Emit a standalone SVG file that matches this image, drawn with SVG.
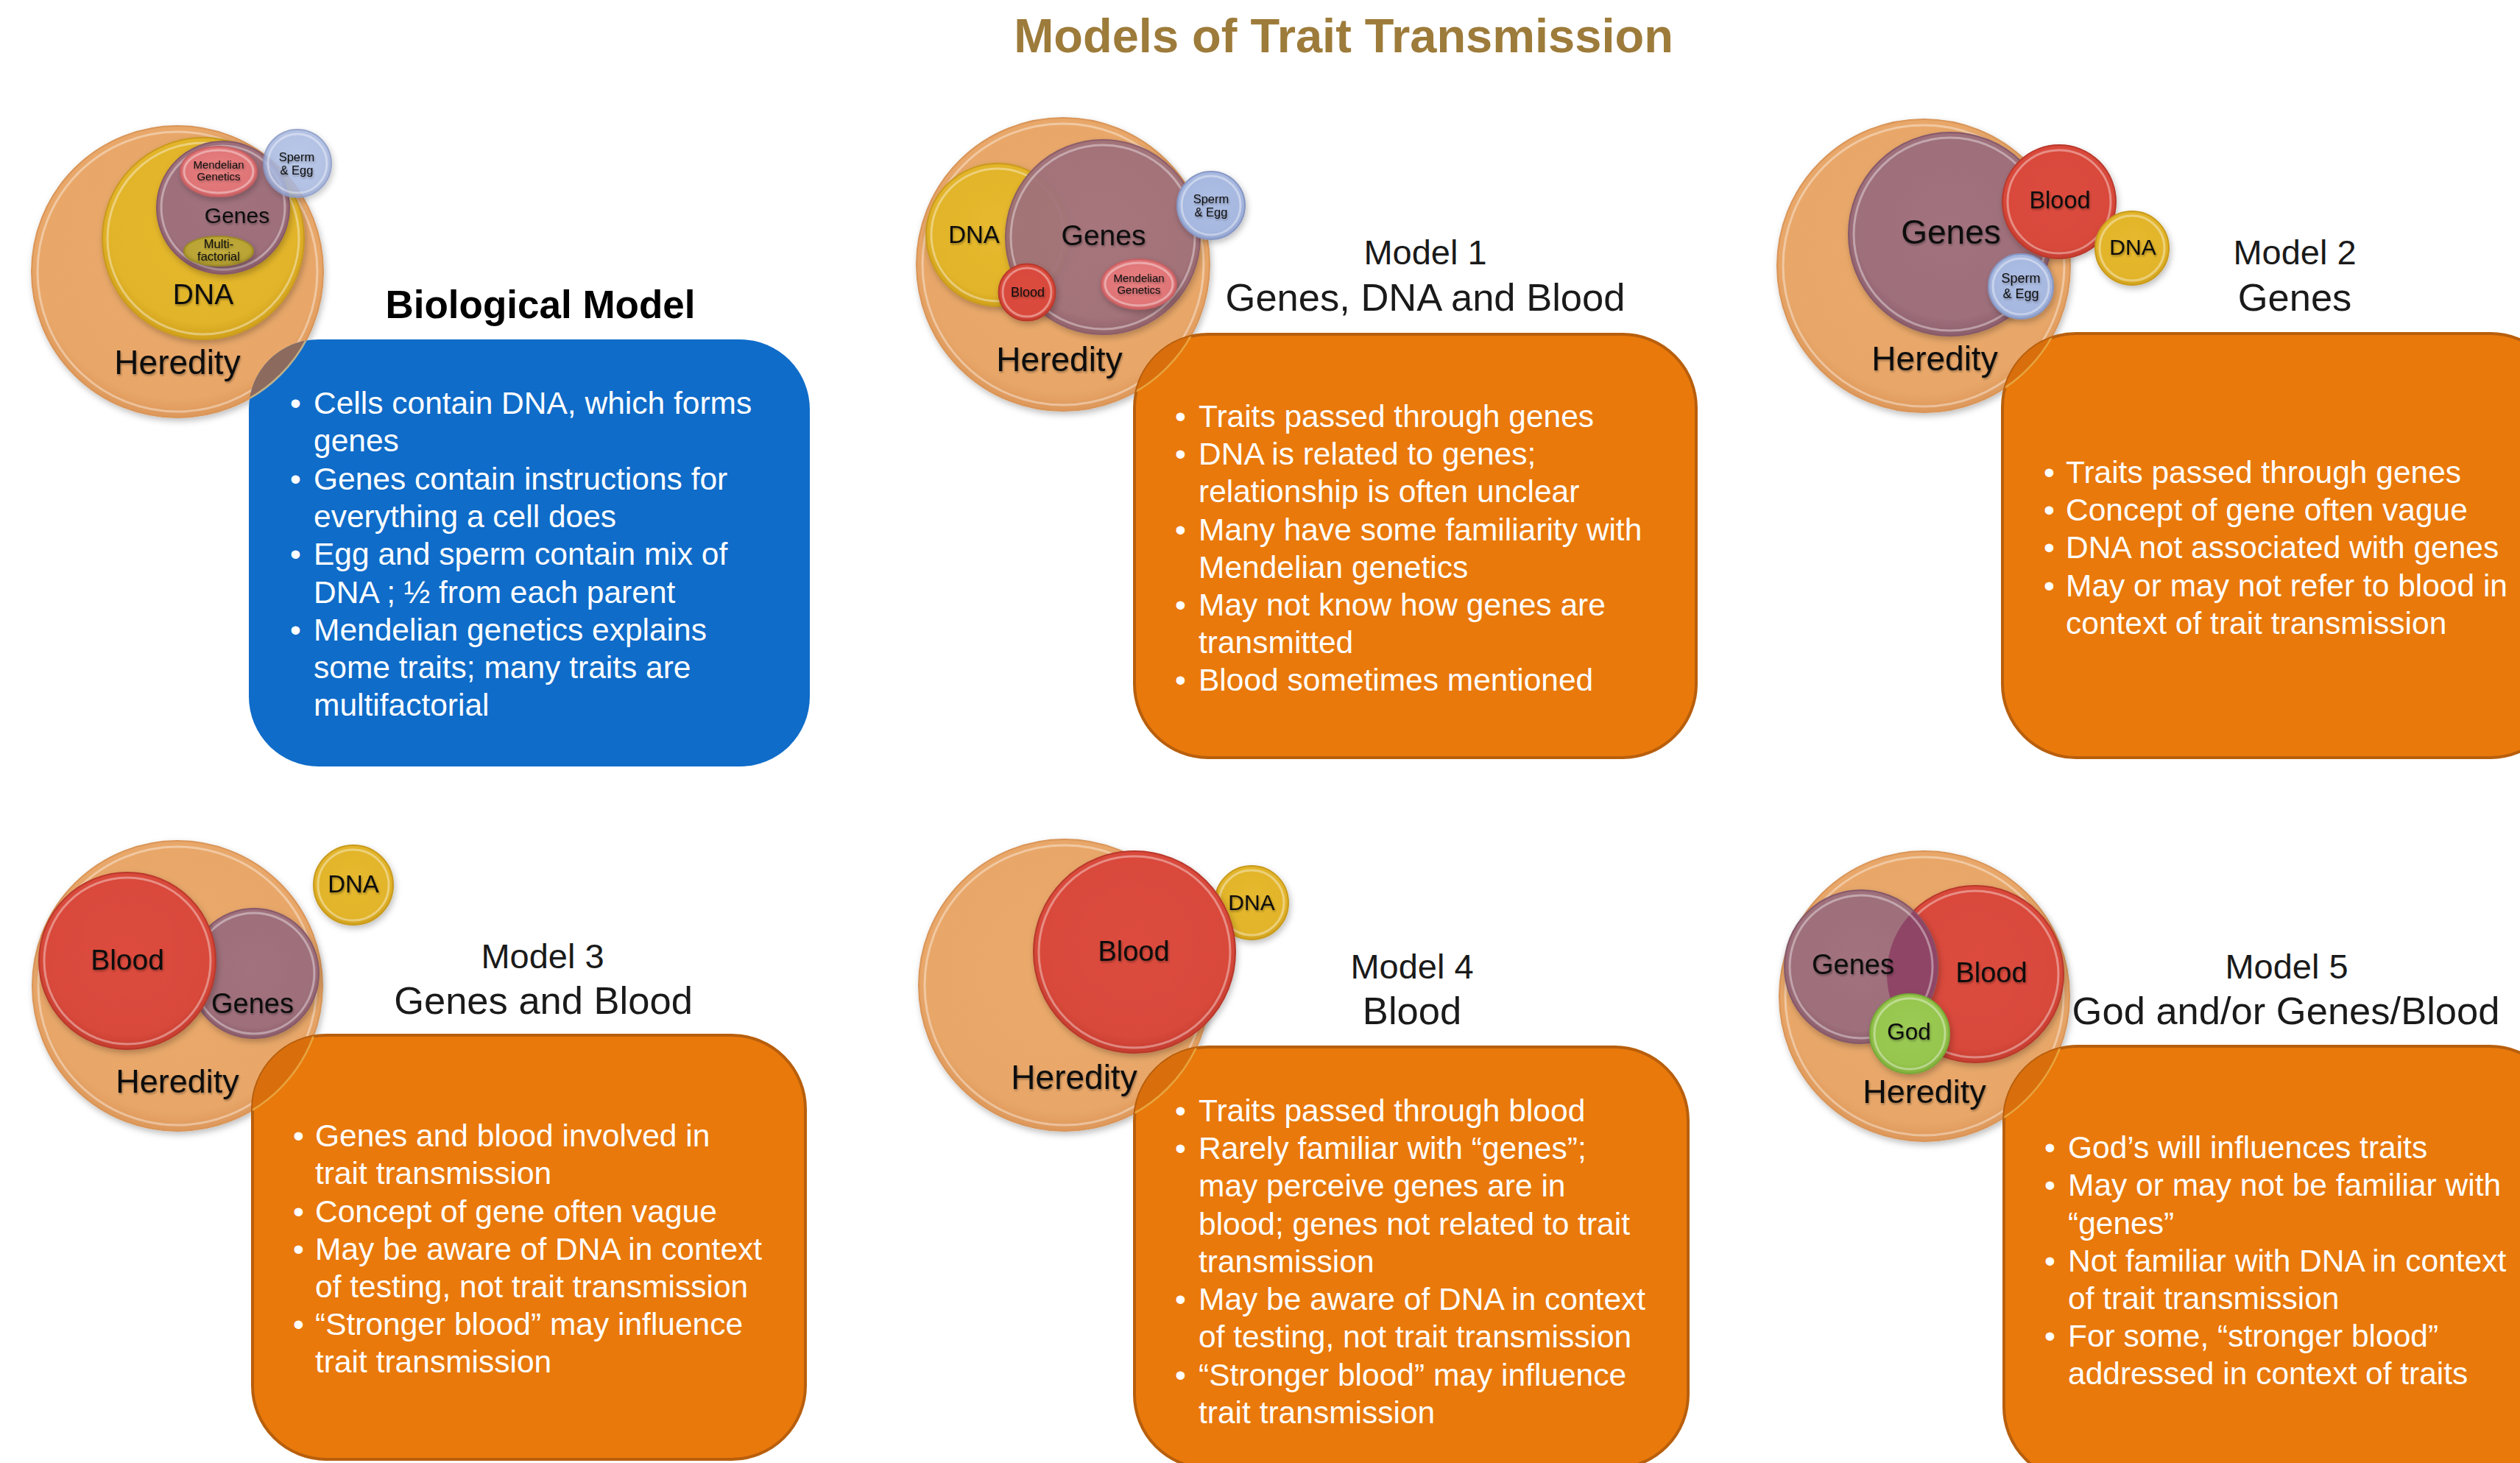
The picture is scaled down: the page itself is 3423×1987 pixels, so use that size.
<svg xmlns="http://www.w3.org/2000/svg" width="3423" height="1987" viewBox="0 0 3423 1987">
<defs>
  <style>
    text { font-family: "Liberation Sans", Arial, sans-serif; }
    .title { font-size: 65px; font-weight: bold; fill: #9D7B3A; text-anchor: middle; }
    .bio { font-size: 53px; font-weight: bold; fill: #000; text-anchor: middle; }
    .mt1 { font-size: 47px; fill: #1a1a1a; text-anchor: middle; }
    .mt2 { font-size: 52.5px; fill: #1a1a1a; text-anchor: middle; }
    .bt { font-size: 42.5px; fill: #fff; }
    .lbl { fill: #0d0d0d; text-anchor: middle; filter: url(#ts); }
    .her { fill: url(#gHer); stroke: #D99558; stroke-width: 2; }
    .dna { fill: url(#gDna); stroke: #C99A1C; stroke-width: 2; }
    .gen { fill: url(#gGen); stroke: #85596A; stroke-width: 2; }
    .bld { fill: url(#gBld); stroke: #B8382C; stroke-width: 2; }
    .spm { fill: url(#gSpm); stroke: #8797C4; stroke-width: 2; }
    .men { fill: url(#gMen); stroke: #C65E62; stroke-width: 2; }
    .mul { fill: url(#gMul); stroke: #9C8A26; stroke-width: 2; }
    .god { fill: url(#gGod); stroke: #78A838; stroke-width: 2; }
    .rim { fill: none; stroke: #fff; stroke-opacity: .38; stroke-width: 3; }
    .sh { filter: url(#ds); }
    .blue { fill: #0F6CC9; }
    .org { fill: #E9790B; stroke: #B85F0D; stroke-width: 4; }
    .ovB { fill: #8C6B5E; stroke: #D8C28A; stroke-width: 2.5; stroke-opacity: .8; }
    .ovO { fill: #D96F0C; stroke: #E9B04C; stroke-width: 2.5; stroke-opacity: .8; }
  </style>
  <filter id="ds" x="-10%" y="-10%" width="125%" height="125%">
    <feDropShadow dx="2" dy="4" stdDeviation="4" flood-color="#000" flood-opacity="0.25"/>
  </filter>
  <filter id="ts" x="-10%" y="-20%" width="120%" height="150%">
    <feDropShadow dx="1" dy="2" stdDeviation="1.5" flood-color="#000" flood-opacity="0.35"/>
  </filter>
  <radialGradient id="gHer" cx="50%" cy="45%" r="55%">
    <stop offset="0" stop-color="#EBAA6C"/><stop offset="0.88" stop-color="#E8A769"/><stop offset="1" stop-color="#DD975A"/>
  </radialGradient>
  <radialGradient id="gDna" cx="50%" cy="45%" r="55%">
    <stop offset="0" stop-color="#E6B92E"/><stop offset="0.85" stop-color="#E2B42A"/><stop offset="1" stop-color="#D0A11C"/>
  </radialGradient>
  <radialGradient id="gGen" cx="50%" cy="45%" r="55%">
    <stop offset="0" stop-color="#A2737F"/><stop offset="0.85" stop-color="#9E6F7B"/><stop offset="1" stop-color="#8C5E6B"/>
  </radialGradient>
  <radialGradient id="gBld" cx="50%" cy="45%" r="55%">
    <stop offset="0" stop-color="#DC4C3E"/><stop offset="0.85" stop-color="#D9493B"/><stop offset="1" stop-color="#C53D30"/>
  </radialGradient>
  <radialGradient id="gSpm" cx="50%" cy="45%" r="55%">
    <stop offset="0" stop-color="#AEBFE5"/><stop offset="0.8" stop-color="#A7B8E0"/><stop offset="1" stop-color="#93A4D0"/>
  </radialGradient>
  <radialGradient id="gMen" cx="50%" cy="45%" r="55%">
    <stop offset="0" stop-color="#E67F80"/><stop offset="0.8" stop-color="#E07577"/><stop offset="1" stop-color="#CF6467"/>
  </radialGradient>
  <radialGradient id="gMul" cx="50%" cy="45%" r="55%">
    <stop offset="0" stop-color="#C2AC3C"/><stop offset="0.8" stop-color="#BAA435"/><stop offset="1" stop-color="#A28F28"/>
  </radialGradient>
  <radialGradient id="gGod" cx="50%" cy="45%" r="55%">
    <stop offset="0" stop-color="#9CCB55"/><stop offset="0.8" stop-color="#96C64E"/><stop offset="1" stop-color="#82B23E"/>
  </radialGradient>
  <clipPath id="cBio"><rect x="338" y="461" width="762" height="580" rx="95"/></clipPath>
  <clipPath id="cM1"><rect x="1541" y="454" width="763" height="575" rx="100"/></clipPath>
  <clipPath id="cM2"><rect x="2720" y="453" width="763" height="576" rx="100"/></clipPath>
  <clipPath id="cM3"><rect x="343" y="1406" width="751" height="576" rx="100"/></clipPath>
  <clipPath id="cM4"><rect x="1541" y="1422" width="752" height="572" rx="100"/></clipPath>
  <clipPath id="cM5"><rect x="2722" y="1421" width="760" height="590" rx="100"/></clipPath>
  <clipPath id="cBld5"><circle cx="2683" cy="1323" r="120"/></clipPath>
</defs>

<rect width="3423" height="1987" fill="#fff"/>

<text class="title" x="1825" y="71">Models of Trait Transmission</text>

<!-- Biological model -->
<g id="biological-model">
  <circle class="her sh" cx="241" cy="369" r="198"/>
  <circle class="rim" cx="241" cy="369" r="190"/>
  <circle class="dna sh" cx="276" cy="324" r="137"/>
  <circle class="rim" cx="276" cy="324" r="130"/>
  <circle class="gen sh" cx="303" cy="282" r="90"/>
  <circle class="rim" cx="303" cy="282" r="84"/>
  <ellipse class="men sh" cx="297" cy="233" rx="52" ry="34"/>
  <ellipse class="rim" cx="297" cy="233" rx="47" ry="29"/>
  <ellipse class="mul sh" cx="297" cy="341" rx="47" ry="20"/>
  <circle class="spm sh" cx="404" cy="222" r="46" opacity="0.86"/>
  <circle class="rim" cx="404" cy="222" r="40"/>
  <text class="lbl" x="297" y="229" font-size="15">Mendelian</text>
  <text class="lbl" x="297" y="245" font-size="15">Genetics</text>
  <text class="lbl" x="322" y="303" font-size="30">Genes</text>
  <text class="lbl" x="297" y="337" font-size="16.5">Multi-</text>
  <text class="lbl" x="297" y="354" font-size="16.5">factorial</text>
  <text class="lbl" x="403" y="219" font-size="16.5">Sperm</text>
  <text class="lbl" x="403" y="237" font-size="16.5">&amp; Egg</text>
  <text class="lbl" x="276" y="413" font-size="39">DNA</text>
  <text class="lbl" x="241" y="508" font-size="46">Heredity</text>

  <text class="bio" x="734" y="432">Biological Model</text>
  <rect class="blue" x="338" y="461" width="762" height="580" rx="95"/>
  <circle class="ovB" cx="241" cy="369" r="198" clip-path="url(#cBio)"/>
  <g class="bt">
    <text x="394" y="562">•</text><text x="426" y="562">Cells contain DNA, which forms</text>
    <text x="426" y="613">genes</text>
    <text x="394" y="665">•</text><text x="426" y="665">Genes contain instructions for</text>
    <text x="426" y="716">everything a cell does</text>
    <text x="394" y="767">•</text><text x="426" y="767">Egg and sperm contain mix of</text>
    <text x="426" y="819">DNA ; ½ from each parent</text>
    <text x="394" y="870">•</text><text x="426" y="870">Mendelian genetics explains</text>
    <text x="426" y="921">some traits; many traits are</text>
    <text x="426" y="972">multifactorial</text>
  </g>
</g>

<!-- Model 1 -->
<g id="model-1">
  <circle class="her sh" cx="1444" cy="359" r="199"/>
  <circle class="rim" cx="1444" cy="359" r="191"/>
  <circle class="dna sh" cx="1355" cy="319" r="97"/>
  <circle class="rim" cx="1355" cy="319" r="90"/>
  <circle class="gen sh" cx="1498" cy="322" r="132" opacity="0.93"/>
  <circle class="rim" cx="1498" cy="322" r="125"/>
  <circle class="bld sh" cx="1395" cy="397" r="38.5"/>
  <circle class="rim" cx="1395" cy="397" r="33"/>
  <ellipse class="men sh" cx="1547" cy="386" rx="51" ry="34"/>
  <ellipse class="rim" cx="1547" cy="386" rx="46" ry="29"/>
  <circle class="spm sh" cx="1645" cy="279" r="46"/>
  <circle class="rim" cx="1645" cy="279" r="40"/>
  <text class="lbl" x="1323" y="330" font-size="33">DNA</text>
  <text class="lbl" x="1499" y="333" font-size="39">Genes</text>
  <text class="lbl" x="1396" y="403" font-size="18">Blood</text>
  <text class="lbl" x="1547" y="383" font-size="15">Mendelian</text>
  <text class="lbl" x="1547" y="399" font-size="15">Genetics</text>
  <text class="lbl" x="1645" y="276" font-size="16.5">Sperm</text>
  <text class="lbl" x="1645" y="294" font-size="16.5">&amp; Egg</text>
  <text class="lbl" x="1439" y="504" font-size="46">Heredity</text>

  <text class="mt1" x="1936" y="359">Model 1</text>
  <text class="mt2" x="1936" y="422">Genes, DNA and Blood</text>
  <rect class="org" x="1541" y="454" width="763" height="575" rx="100"/>
  <circle class="ovO" cx="1444" cy="359" r="199" clip-path="url(#cM1)"/>
  <g class="bt">
    <text x="1596" y="580">•</text><text x="1628" y="580">Traits passed through genes</text>
    <text x="1596" y="631">•</text><text x="1628" y="631">DNA is related to genes;</text>
    <text x="1628" y="682">relationship is often unclear</text>
    <text x="1596" y="734">•</text><text x="1628" y="734">Many have some familiarity with</text>
    <text x="1628" y="785">Mendelian genetics</text>
    <text x="1596" y="836">•</text><text x="1628" y="836">May not know how genes are</text>
    <text x="1628" y="887">transmitted</text>
    <text x="1596" y="938">•</text><text x="1628" y="938">Blood sometimes mentioned</text>
  </g>
</g>

<!-- Model 2 -->
<g id="model-2">
  <circle class="her sh" cx="2613" cy="361" r="199"/>
  <circle class="rim" cx="2613" cy="361" r="191"/>
  <circle class="gen sh" cx="2649" cy="318" r="138"/>
  <circle class="rim" cx="2649" cy="318" r="131"/>
  <circle class="bld sh" cx="2797" cy="274" r="77"/>
  <circle class="rim" cx="2797" cy="274" r="70"/>
  <circle class="dna sh" cx="2896" cy="337" r="50"/>
  <circle class="rim" cx="2896" cy="337" r="44"/>
  <circle class="spm sh" cx="2745" cy="389" r="44"/>
  <circle class="rim" cx="2745" cy="389" r="38"/>
  <text class="lbl" x="2650" y="331" font-size="46">Genes</text>
  <text class="lbl" x="2798" y="283" font-size="32.5">Blood</text>
  <text class="lbl" x="2897" y="346" font-size="30">DNA</text>
  <text class="lbl" x="2745" y="384" font-size="18">Sperm</text>
  <text class="lbl" x="2745" y="405" font-size="18">&amp; Egg</text>
  <text class="lbl" x="2628" y="503" font-size="46">Heredity</text>

  <text class="mt1" x="3117" y="359">Model 2</text>
  <text class="mt2" x="3117" y="422">Genes</text>
  <rect class="org" x="2720" y="453" width="763" height="576" rx="100"/>
  <circle class="ovO" cx="2613" cy="361" r="199" clip-path="url(#cM2)"/>
  <g class="bt">
    <text x="2776" y="656">•</text><text x="2806" y="656">Traits passed through genes</text>
    <text x="2776" y="707">•</text><text x="2806" y="707">Concept of gene often vague</text>
    <text x="2776" y="758">•</text><text x="2806" y="758">DNA not associated with genes</text>
    <text x="2776" y="810">•</text><text x="2806" y="810">May or may not refer to blood in</text>
    <text x="2806" y="861">context of trait transmission</text>
  </g>
</g>

<!-- Model 3 -->
<g id="model-3">
  <circle class="her sh" cx="241" cy="1339" r="197"/>
  <circle class="rim" cx="241" cy="1339" r="189"/>
  <circle class="gen sh" cx="345" cy="1322" r="88"/>
  <circle class="rim" cx="345" cy="1322" r="82"/>
  <circle class="bld sh" cx="173" cy="1305" r="120"/>
  <circle class="rim" cx="173" cy="1305" r="113"/>
  <circle class="dna sh" cx="480" cy="1202" r="54"/>
  <circle class="rim" cx="480" cy="1202" r="48"/>
  <text class="lbl" x="173" y="1317" font-size="39">Blood</text>
  <text class="lbl" x="343" y="1376" font-size="38">Genes</text>
  <text class="lbl" x="480" y="1212" font-size="33">DNA</text>
  <text class="lbl" x="241" y="1484" font-size="45">Heredity</text>

  <text class="mt1" x="737" y="1315">Model 3</text>
  <text class="mt2" x="738" y="1377">Genes and Blood</text>
  <rect class="org" x="343" y="1406" width="751" height="576" rx="100"/>
  <circle class="ovO" cx="241" cy="1339" r="197" clip-path="url(#cM3)"/>
  <g class="bt">
    <text x="398" y="1557">•</text><text x="428" y="1557">Genes and blood involved in</text>
    <text x="428" y="1608">trait transmission</text>
    <text x="398" y="1660">•</text><text x="428" y="1660">Concept of gene often vague</text>
    <text x="398" y="1711">•</text><text x="428" y="1711">May be aware of DNA in context</text>
    <text x="428" y="1762">of testing, not trait transmission</text>
    <text x="398" y="1813">•</text><text x="428" y="1813">“Stronger blood” may influence</text>
    <text x="428" y="1864">trait transmission</text>
  </g>
</g>

<!-- Model 4 -->
<g id="model-4">
  <circle class="her sh" cx="1446" cy="1338" r="198"/>
  <circle class="rim" cx="1446" cy="1338" r="190"/>
  <circle class="dna sh" cx="1700" cy="1226" r="50"/>
  <circle class="rim" cx="1700" cy="1226" r="44"/>
  <circle class="bld sh" cx="1541" cy="1293" r="137"/>
  <circle class="rim" cx="1541" cy="1293" r="130"/>
  <text class="lbl" x="1540" y="1305" font-size="38">Blood</text>
  <text class="lbl" x="1700" y="1236" font-size="30">DNA</text>
  <text class="lbl" x="1459" y="1479" font-size="46">Heredity</text>

  <text class="mt1" x="1918" y="1329">Model 4</text>
  <text class="mt2" x="1918" y="1391">Blood</text>
  <rect class="org" x="1541" y="1422" width="752" height="572" rx="100"/>
  <circle class="ovO" cx="1446" cy="1338" r="198" clip-path="url(#cM4)"/>
  <g class="bt">
    <text x="1596" y="1523">•</text><text x="1628" y="1523">Traits passed through blood</text>
    <text x="1596" y="1574">•</text><text x="1628" y="1574">Rarely familiar with “genes”;</text>
    <text x="1628" y="1625">may perceive genes are in</text>
    <text x="1628" y="1677">blood; genes not related to trait</text>
    <text x="1628" y="1728">transmission</text>
    <text x="1596" y="1779">•</text><text x="1628" y="1779">May be aware of DNA in context</text>
    <text x="1628" y="1830">of testing, not trait transmission</text>
    <text x="1596" y="1882">•</text><text x="1628" y="1882">“Stronger blood” may influence</text>
    <text x="1628" y="1933">trait transmission</text>
  </g>
</g>

<!-- Model 5 -->
<g id="model-5">
  <circle class="her sh" cx="2614" cy="1353" r="197"/>
  <circle class="rim" cx="2614" cy="1353" r="189"/>
  <circle class="bld sh" cx="2683" cy="1323" r="120"/>
  <circle class="rim" cx="2683" cy="1323" r="113"/>
  <circle class="gen sh" cx="2528" cy="1313" r="104"/>
  <circle cx="2528" cy="1313" r="104" fill="#8F4666" clip-path="url(#cBld5)"/>
  <circle class="rim" cx="2528" cy="1313" r="97"/>
  <circle class="god sh" cx="2594" cy="1404" r="54"/>
  <circle class="rim" cx="2594" cy="1404" r="48"/>
  <text class="lbl" x="2517" y="1323" font-size="38">Genes</text>
  <text class="lbl" x="2705" y="1334" font-size="38">Blood</text>
  <text class="lbl" x="2593" y="1412" font-size="31.5">God</text>
  <text class="lbl" x="2614" y="1498" font-size="45">Heredity</text>

  <text class="mt1" x="3106" y="1329">Model 5</text>
  <text class="mt2" x="3105" y="1391">God and/or Genes/Blood</text>
  <rect class="org" x="2722" y="1421" width="760" height="590" rx="100"/>
  <circle class="ovO" cx="2614" cy="1353" r="197" clip-path="url(#cM5)"/>
  <g class="bt">
    <text x="2777" y="1573">•</text><text x="2809" y="1573">God’s will influences traits</text>
    <text x="2777" y="1624">•</text><text x="2809" y="1624">May or may not be familiar with</text>
    <text x="2809" y="1676">“genes”</text>
    <text x="2777" y="1727">•</text><text x="2809" y="1727">Not familiar with DNA in context</text>
    <text x="2809" y="1778">of trait transmission</text>
    <text x="2777" y="1829">•</text><text x="2809" y="1829">For some, “stronger blood”</text>
    <text x="2809" y="1880">addressed in context of traits</text>
  </g>
</g>

<!-- no connectors in this figure -->
<g id="connectors"/>
</svg>
